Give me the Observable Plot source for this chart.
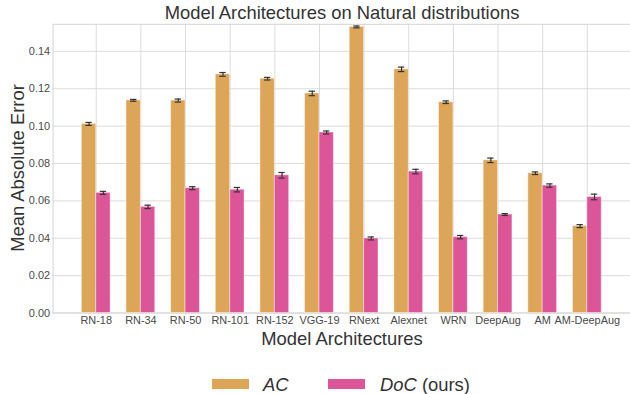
<!DOCTYPE html>
<html>
<head>
<meta charset="utf-8">
<script src="https://cdn.jsdelivr.net/npm/d3@7"></script>
<script src="https://cdn.jsdelivr.net/npm/@observablehq/plot@0.6"></script>
<style>
  html, body { margin: 0; padding: 0; background: #fff; }
  #wrap { position: relative; width: 630px; height: 394px; overflow: hidden; font-family: "Liberation Sans", Arial, sans-serif; }
  #chart { position: absolute; left: 0; top: 0; }
  .lbl { position: absolute; white-space: nowrap; font-size: 18.4px; line-height: 18px; color: #333; }
  .sw { position: absolute; width: 37px; height: 10px; }
</style>
</head>
<body>
<div id="wrap">
  <div id="chart"></div>
  <div class="lbl" id="title" style="left:342px; top:4px; transform:translateX(-50%);">Model Architectures on Natural distributions</div>
  <div class="lbl" id="xlab" style="left:342px; top:330px; transform:translateX(-50%);">Model Architectures</div>
  <div class="lbl" id="ylab" style="left:18px; top:168px; transform:translate(-50%,-50%) rotate(-90deg);">Mean Absolute Error</div>
  <div class="sw" style="left:212px; top:379px; background:#DCA557;"></div>
  <div class="lbl" style="left:263px; top:376px;"><i>AC</i></div>
  <div class="sw" style="left:328px; top:379px; background:#DD5599;"></div>
  <div class="lbl" style="left:380px; top:376px;"><i>DoC</i> (ours)</div>
</div>
<script>
const models = ["RN-18","RN-34","RN-50","RN-101","RN-152","VGG-19","RNext","Alexnet","WRN","DeepAug","AM","AM-DeepAug"];
const acValues = [0.1012, 0.1138, 0.1137, 0.1277, 0.1254, 0.1175, 0.1531, 0.1304, 0.1128, 0.0817, 0.0748, 0.0465];
const acErrors = [0.0008, 0.0005, 0.0008, 0.0010, 0.0007, 0.0012, 0.0005, 0.0012, 0.0007, 0.0012, 0.0007, 0.0008];
const docValues = [0.0643, 0.0568, 0.0668, 0.0660, 0.0737, 0.0966, 0.0399, 0.0757, 0.0406, 0.0527, 0.0682, 0.0621];
const docErrors = [0.0008, 0.0009, 0.0008, 0.0012, 0.0015, 0.0008, 0.0008, 0.0012, 0.0009, 0.0005, 0.0009, 0.0015];
const yTicks = [0, 0.02, 0.04, 0.06, 0.08, 0.10, 0.12, 0.14];

const acColor = "#DCA557";
const docColor = "#DD5599";

const acData = models.map((m, i) => ({model: m, value: acValues[i], err: acErrors[i]}));
const docData = models.map((m, i) => ({model: m, value: docValues[i], err: docErrors[i]}));

const half = 14.5;
const capHalf = 3.2;

const chart = Plot.plot({
  width: 635,
  height: 394,
  marginLeft: 53,
  marginRight: 0,
  marginTop: 24,
  marginBottom: 79,
  style: {fontFamily: "'Liberation Sans', Arial, sans-serif", fontSize: "11px", color: "#4a4a4a", background: "transparent"},
  x: {type: "band", domain: models, paddingInner: 0.357, paddingOuter: 0.632, align: 0.5, label: null},
  y: {domain: [0, 0.1545], label: null},
  marks: [
    Plot.gridY(yTicks, {stroke: "#dcdcdc", strokeOpacity: 1, strokeWidth: 1}),
    Plot.gridX(models, {stroke: "#dcdcdc", strokeOpacity: 1, strokeWidth: 1}),
    Plot.frame({stroke: "#d4d4d4", strokeWidth: 1}),
    Plot.barY(acData, {x: "model", y: "value", fill: acColor, insetRight: half, stroke: "#fff", strokeOpacity: 0.45, strokeWidth: 1}),
    Plot.barY(docData, {x: "model", y: "value", fill: docColor, insetLeft: half, stroke: "#fff", strokeOpacity: 0.45, strokeWidth: 1}),
    Plot.ruleX(acData, {x: "model", y1: d => d.value - d.err, y2: d => d.value + d.err, dx: -half / 2, stroke: "#333", strokeWidth: 1.2}),
    Plot.ruleX(docData, {x: "model", y1: d => d.value - d.err, y2: d => d.value + d.err, dx: half / 2, stroke: "#333", strokeWidth: 1.2}),
    Plot.tickY(acData, {x: "model", y: d => d.value + d.err, insetLeft: half / 2 - capHalf, insetRight: half + half / 2 - capHalf, stroke: "#333", strokeWidth: 1.2}),
    Plot.tickY(acData, {x: "model", y: d => d.value - d.err, insetLeft: half / 2 - capHalf, insetRight: half + half / 2 - capHalf, stroke: "#333", strokeWidth: 1.2}),
    Plot.tickY(docData, {x: "model", y: d => d.value + d.err, insetLeft: half + half / 2 - capHalf, insetRight: half / 2 - capHalf, stroke: "#333", strokeWidth: 1.2}),
    Plot.tickY(docData, {x: "model", y: d => d.value - d.err, insetLeft: half + half / 2 - capHalf, insetRight: half / 2 - capHalf, stroke: "#333", strokeWidth: 1.2}),
    Plot.axisY({ticks: yTicks, tickFormat: d3.format(".2f"), tickSize: 0, tickPadding: 3, label: null, fill: "#4a4a4a"}),
    Plot.axisX({tickSize: 0, tickPadding: 3, label: null, fill: "#4a4a4a"})
  ]
});
document.getElementById("chart").appendChild(chart);
</script>
</body>
</html>
